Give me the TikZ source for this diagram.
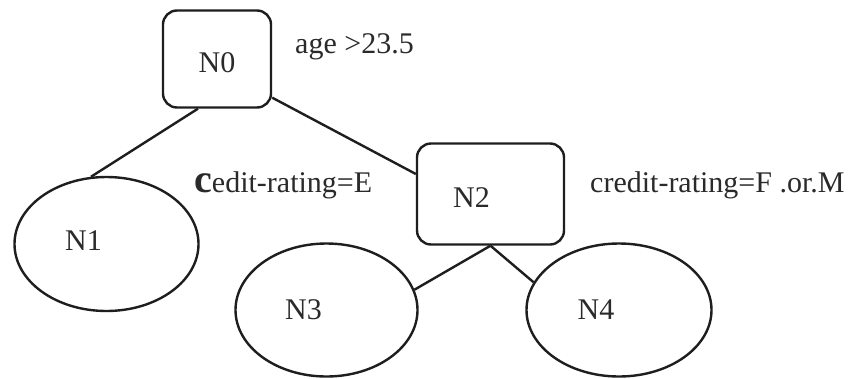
\documentclass[tikz,border=0pt]{standalone}
\usepackage{fontspec}
\setmainfont{Liberation Serif}
\usetikzlibrary{shapes.geometric}
\definecolor{inkline}{HTML}{1E1E1E}
\definecolor{inktext}{HTML}{2A2A2A}
\tikzset{
  every node/.style={font=\fontsize{30}{34}\selectfont, text=inktext},
  test/.style={draw=inkline, line width=2.4pt, rounded corners=14pt,
               inner sep=0pt},
  leaf/.style={ellipse, draw=inkline, line width=2.4pt, inner sep=0pt},
  tag/.style={xshift=-23pt},
  cond/.style={anchor=base west, inner sep=0pt},
  edge/.style={draw=inkline, line width=2.4pt}
}
\begin{document}
\begin{tikzpicture}[x=1pt, y=-1pt]
  \useasboundingbox[fill=white] (0,0) rectangle (856,378);

  % decision nodes
  \node[test, minimum width=108pt, minimum height=97pt,
        label={[yshift=-4pt]center:N0}] (N0) at (217,59) {};
  \node[test, minimum width=147pt, minimum height=101pt,
        label={[xshift=-19pt, yshift=-4pt]center:N2}] (N2) at (490.5,194) {};

  % leaves
  \node[leaf, minimum width=184pt, minimum height=134pt,
        label={[tag, yshift=3pt]center:N1}] (N1) at (106.5,244) {};
  \node[leaf, minimum width=182pt, minimum height=133pt,
        label={[tag]center:N3}] (N3) at (326.5,310) {};
  \node[leaf, minimum width=185pt, minimum height=133pt,
        label={[tag]center:N4}] (N4) at (619,310) {};

  % branches
  \draw[edge] (N0.-111) -- (N1.103.5);
  \draw[edge] (N0.-35) -- (N2.165.5);
  \draw[edge] (N2.south) -- (N3.13.6);
  \draw[edge] (N2.south) -- (N4.162.6);

  % split conditions
  \node[cond] (c0) at (295,53) {age >23.5};
  \node[cond] (c1) at (194,192)
    {{\fontsize{40}{40}\selectfont\bfseries c}edit-rating=E};
  \node[cond] (c2) at (590,192) {credit-rating=F .or.M};
\end{tikzpicture}
\end{document}
